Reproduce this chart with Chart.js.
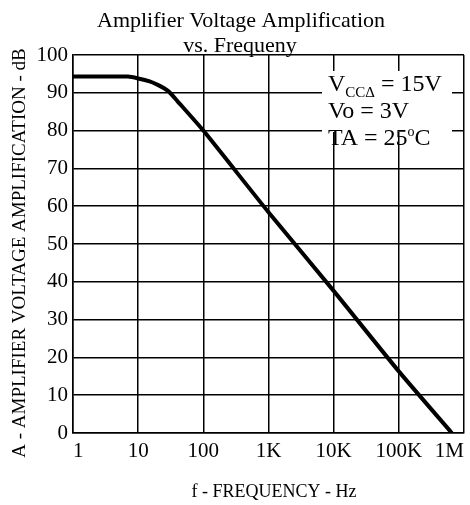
<!DOCTYPE html>
<html>
<head>
<meta charset="utf-8">
<script src="https://cdn.jsdelivr.net/npm/chart.js@4.4.1/dist/chart.umd.min.js"></script>
<style>
  html, body { margin: 0; padding: 0; background: #fff; }
  #wrap { width: 470px; height: 505px; }
</style>
</head>
<body>
<div id="wrap"><canvas id="myChart" width="470" height="505"></canvas></div>
<script>
// frequency (Hz) and gain (dB)
const freq = [1, 7, 10, 15, 20, 25, 30, 40, 100, 1000, 10000, 100000, 650000];
const gain = [94.3, 94.3, 93.8, 93.0, 92.1, 91.2, 90.2, 87.8, 80, 58.4, 37.6, 16.3, 0];

const xTicks = [1, 10, 100, 1000, 10000, 100000, 1000000];
const xTickLabels = ['1', '10', '100', '1K', '10K', '100K', '1M'];
const yTicks = [0, 10, 20, 30, 40, 50, 60, 70, 80, 90, 100];

const serif = '"Liberation Serif", "DejaVu Serif", serif';

const textPlugin = {
    id: 'textPlugin',
    afterDraw(chart) {
        const c = chart.ctx;
        c.save();
        c.fillStyle = '#000';

        // title
        c.font = '22px ' + serif;
        c.textAlign = 'center';
        c.textBaseline = 'alphabetic';
        c.fillText('Amplifier Voltage Amplification', 241, 27);
        c.fillText('vs. Frequeny', 240, 52);

        // axis titles
        c.font = '18px ' + serif;
        c.textBaseline = 'middle';
        c.fillText('f - FREQUENCY - Hz', 274, 492);
        c.font = '19px ' + serif;
        c.save();
        c.translate(20, 253);
        c.rotate(-Math.PI / 2);
        c.fillText('A - AMPLIFIER VOLTAGE AMPLIFICATION - dB', 0, 0);
        c.restore();

        // conditions box
        c.fillStyle = '#fff';
        c.fillRect(322, 71, 130, 61);
        c.fillStyle = '#000';
        c.textAlign = 'left';
        c.textBaseline = 'alphabetic';
        let x = 328;
        c.font = '24px ' + serif;
        c.fillText('V', x, 91);
        x += c.measureText('V').width;
        c.font = '15px ' + serif;
        c.fillText('CC\u0394', x, 97);
        x += c.measureText('CC\u0394').width;
        c.font = '24px ' + serif;
        c.fillText(' = 15V', x, 91);

        c.fillText('Vo = 3V', 328, 118);

        x = 328;
        c.fillText('TA = 25', x, 145);
        x += c.measureText('TA = 25').width;
        c.font = '14px ' + serif;
        c.fillText('o', x, 136);
        x += c.measureText('o').width;
        c.font = '24px ' + serif;
        c.fillText('C', x, 145);
        c.restore();
    }
};

const ctx = document.getElementById('myChart');

new Chart(ctx, {
    type: 'line',
    data: {
        datasets: [{
            data: freq.map((f, i) => ({ x: f, y: gain[i] })),
            borderColor: '#000',
            borderWidth: 4,
            pointRadius: 0,
            tension: 0.2,
            fill: false
        }]
    },
    options: {
        responsive: false,
        animation: false,
        layout: { padding: { top: 55, right: 6, left: 0, bottom: 0 } },
        plugins: {
            legend: { display: false },
            tooltip: { enabled: false },
            title: { display: false }
        },
        scales: {
            x: {
                type: 'logarithmic',
                min: 1,
                max: 1000000,
                afterBuildTicks: s => { s.ticks = xTicks.map(v => ({ value: v })); },
                afterFit: s => { s.height = 72; },
                ticks: {
                    callback: (v, i) => xTickLabels[i],
                    autoSkip: false,
                    maxRotation: 0,
                    align: 'inner',
                    padding: 6,
                    color: '#000',
                    font: { family: serif, size: 21 }
                },
                grid: { color: '#000', lineWidth: 1.5, drawTicks: false },
                border: { color: '#000', width: 1.5 }
            },
            y: {
                type: 'linear',
                min: 0,
                max: 100,
                afterBuildTicks: s => { s.ticks = yTicks.map(v => ({ value: v })); },
                afterFit: s => { s.width = 73; },
                ticks: {
                    padding: 5,
                    color: '#000',
                    font: { family: serif, size: 21 }
                },
                grid: { color: '#000', lineWidth: 1.5, drawTicks: false },
                border: { color: '#000', width: 1.5 }
            }
        }
    },
    plugins: [textPlugin]
});
</script>
</body>
</html>
